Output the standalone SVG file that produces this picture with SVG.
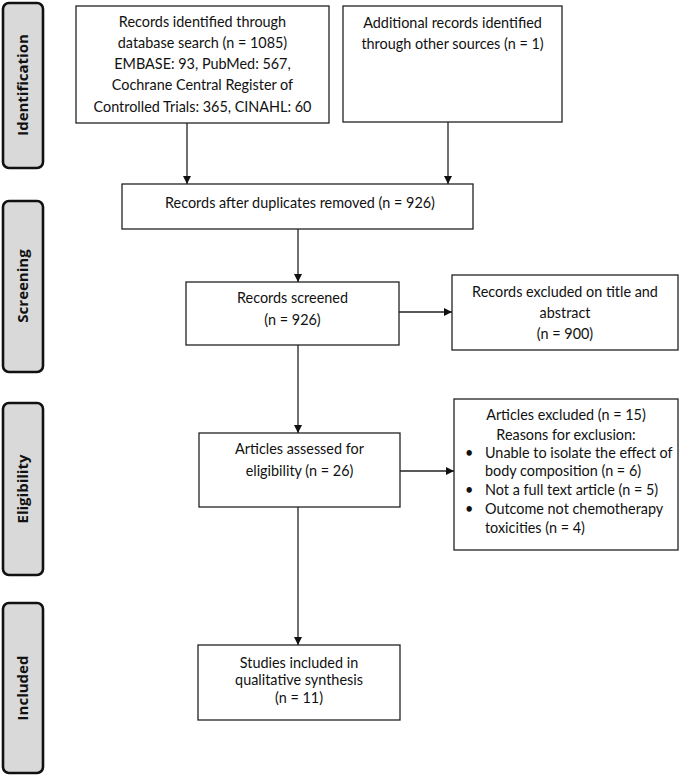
<svg xmlns="http://www.w3.org/2000/svg" width="685" height="775" viewBox="0 0 685 775">
<style>
.box{fill:#fff;stroke:#222;stroke-width:1.3}
.side{fill:#d9d9d9;stroke:#111;stroke-width:2.6}
.t{font-family:Lato,"Liberation Sans",sans-serif;font-size:14.4px;fill:#111;text-anchor:middle}
.tl{font-family:Lato,"Liberation Sans",sans-serif;font-size:14.4px;fill:#111}
.st{font-family:"Open Sans","Liberation Sans",sans-serif;font-size:15px;font-weight:bold;fill:#111;text-anchor:middle}
.c{stroke:#222;stroke-width:1.3;fill:none;marker-end:url(#ah)}
</style>
<defs>
<marker id="ah" viewBox="0 0 10 10" refX="10" refY="5" markerWidth="8" markerHeight="8" markerUnits="userSpaceOnUse" orient="auto">
<path d="M0,0 L10,5 L0,10 Z" fill="#111"/>
</marker>
</defs>
<rect width="685" height="775" fill="#fff"/>
<g id="side-identification"><rect class="side" x="3" y="3" width="40" height="165" rx="6"/><text class="st" transform="translate(28,85) rotate(-90)">Identification</text></g>
<g id="side-screening"><rect class="side" x="3" y="201" width="40" height="171" rx="6"/><text class="st" transform="translate(28,286) rotate(-90)">Screening</text></g>
<g id="side-eligibility"><rect class="side" x="3" y="403" width="40" height="172" rx="6"/><text class="st" transform="translate(28,489) rotate(-90)">Eligibility</text></g>
<g id="side-included"><rect class="side" x="3" y="603" width="40" height="170" rx="6"/><text class="st" transform="translate(28,688) rotate(-90)">Included</text></g>

<g id="connectors">
<line class="c" x1="187" y1="123" x2="187" y2="184"/>
<line class="c" x1="448" y1="122" x2="448" y2="184"/>
<line class="c" x1="298" y1="229" x2="298" y2="282"/>
<line class="c" x1="399" y1="312" x2="452" y2="312"/>
<line class="c" x1="298" y1="345" x2="298" y2="433"/>
<line class="c" x1="400" y1="471" x2="454" y2="471"/>
<line class="c" x1="298" y1="507" x2="298" y2="645"/>
</g>

<g id="n1"><rect class="box" x="76" y="6" width="253" height="117"/>
<text class="t" x="202.5" y="27">Records identified through</text>
<text class="t" x="202.5" y="48">database search (n = 1085)</text>
<text class="t" x="202.5" y="69">EMBASE: 93, PubMed: 567,</text>
<text class="t" x="202.5" y="90">Cochrane Central Register of</text>
<text class="t" x="202.5" y="112">Controlled Trials: 365, CINAHL: 60</text></g>

<g id="n2"><rect class="box" x="343" y="6" width="219" height="116"/>
<text class="t" x="452.5" y="28">Additional records identified</text>
<text class="t" x="452.5" y="49">through other sources (n = 1)</text></g>

<g id="n3"><rect class="box" x="122" y="184" width="351" height="45"/>
<text class="t" x="300" y="208">Records after duplicates removed (n = 926)</text></g>

<g id="n4"><rect class="box" x="186" y="282" width="213" height="63"/>
<text class="t" x="292.5" y="303">Records screened</text>
<text class="t" x="292.5" y="325">(n = 926)</text></g>

<g id="n5"><rect class="box" x="452" y="275" width="226" height="75"/>
<text class="t" x="565" y="297">Records excluded on title and</text>
<text class="t" x="565" y="318">abstract</text>
<text class="t" x="565" y="339">(n = 900)</text></g>

<g id="n6"><rect class="box" x="199" y="433" width="201" height="74"/>
<text class="t" x="299.5" y="454">Articles assessed for</text>
<text class="t" x="299.5" y="476">eligibility (n = 26)</text></g>

<g id="n7"><rect class="box" x="454" y="399" width="224" height="151"/>
<text class="t" x="566" y="420">Articles excluded (n = 15)</text>
<text class="t" x="566" y="440">Reasons for exclusion:</text>
<text class="tl" x="465" y="458">•</text><text class="tl" x="485" y="458">Unable to isolate the effect of</text>
<text class="tl" x="485" y="476">body composition (n = 6)</text>
<text class="tl" x="465" y="495">•</text><text class="tl" x="485" y="495">Not a full text article (n = 5)</text>
<text class="tl" x="465" y="514">•</text><text class="tl" x="485" y="514">Outcome not chemotherapy</text>
<text class="tl" x="485" y="533">toxicities (n = 4)</text></g>

<g id="n8"><rect class="box" x="198" y="645" width="202" height="75"/>
<text class="t" x="299" y="668">Studies included in</text>
<text class="t" x="299" y="685">qualitative synthesis</text>
<text class="t" x="299" y="703">(n = 11)</text></g>
</svg>
